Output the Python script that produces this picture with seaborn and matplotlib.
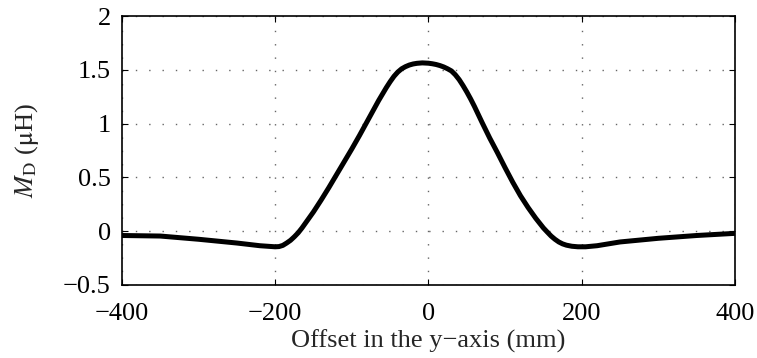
import pandas as pd
import matplotlib
matplotlib.use("Agg")
import matplotlib.pyplot as plt
import seaborn as sns

# offset (mm) and mutual inductance M_D (uH)
offset_mm = [-400, -350, -300, -250, -220, -200, -195, -190, -185, -180,
             -175, -170, -165, -160, -150, -140, -130, -120, -110, -100,
             -90, -80, -70, -65, -60, -55, -50, -45, -40, -35,
             -30, -25, -20, -15, -8, 0, 5, 10, 15, 20,
             25, 30, 35, 40, 45, 50, 55, 60, 65, 70,
             80, 90, 100, 110, 120, 130, 140, 150, 155, 160,
             165, 170, 175, 180, 187, 195, 205, 220, 250, 300,
             350, 400]
md_uh = [-0.04, -0.045, -0.075, -0.11, -0.135, -0.145, -0.143, -0.132, -0.11, -0.085,
         -0.052, -0.015, 0.03, 0.08, 0.18, 0.29, 0.405, 0.525, 0.645, 0.765,
         0.89, 1.02, 1.15, 1.215, 1.275, 1.335, 1.39, 1.44, 1.48, 1.51,
         1.53, 1.545, 1.555, 1.561, 1.565, 1.562, 1.557, 1.55, 1.54, 1.527,
         1.51, 1.49, 1.455, 1.41, 1.355, 1.295, 1.23, 1.16, 1.085, 1.01,
         0.865, 0.73, 0.59, 0.455, 0.33, 0.22, 0.12, 0.03, -0.008, -0.045,
         -0.075, -0.1, -0.118, -0.13, -0.14, -0.145, -0.145, -0.135, -0.1, -0.066,
         -0.04, -0.02]

x_ticks = [-400, -200, 0, 200, 400]
y_ticks = [-0.5, 0, 0.5, 1, 1.5, 2]
x_labels = ["\u2212400", "\u2212200", "0", "200", "400"]
y_labels = ["\u22120.5", "0", "0.5", "1", "1.5", "2"]

df = pd.DataFrame({"offset": offset_mm, "md": md_uh})

sns.set_style("white")
plt.rcParams["font.family"] = ["Liberation Serif", "DejaVu Serif"]
plt.rcParams["mathtext.fontset"] = "stix"
plt.rcParams["xtick.direction"] = "in"
plt.rcParams["ytick.direction"] = "in"

fig = plt.figure(figsize=(7.57, 3.58), dpi=100)
ax = fig.add_axes([0.161, 0.204, 0.81, 0.751])

sns.lineplot(data=df, x="offset", y="md", ax=ax, color="black", linewidth=3.6)

ax.set_xlim(-400, 400)
ax.set_ylim(-0.5, 2)
ax.set_xticks(x_ticks)
ax.set_xticklabels(x_labels)
ax.set_yticks(y_ticks)
ax.set_yticklabels(y_labels)
ax.tick_params(axis="both", labelsize=19, length=4, width=0.8, colors="black",
               top=True, right=True, bottom=True, left=True)
ax.tick_params(axis="x", pad=13)
ax.tick_params(axis="y", pad=8)
ax.grid(True, linestyle=(0, (1, 8.6)), color="#666666", linewidth=1.0)

for s in ax.spines.values():
    s.set_visible(True)
    s.set_color("black")
    s.set_linewidth(1.2)

ax.set_xlabel("Offset in the y\u2212axis (mm)", fontsize=19, labelpad=3)
ax.set_ylabel(r"$M_{\mathrm{D}}$ ($\mathrm{\mu}$H)", fontsize=19, labelpad=16)

fig.savefig("out.png", dpi=100)
